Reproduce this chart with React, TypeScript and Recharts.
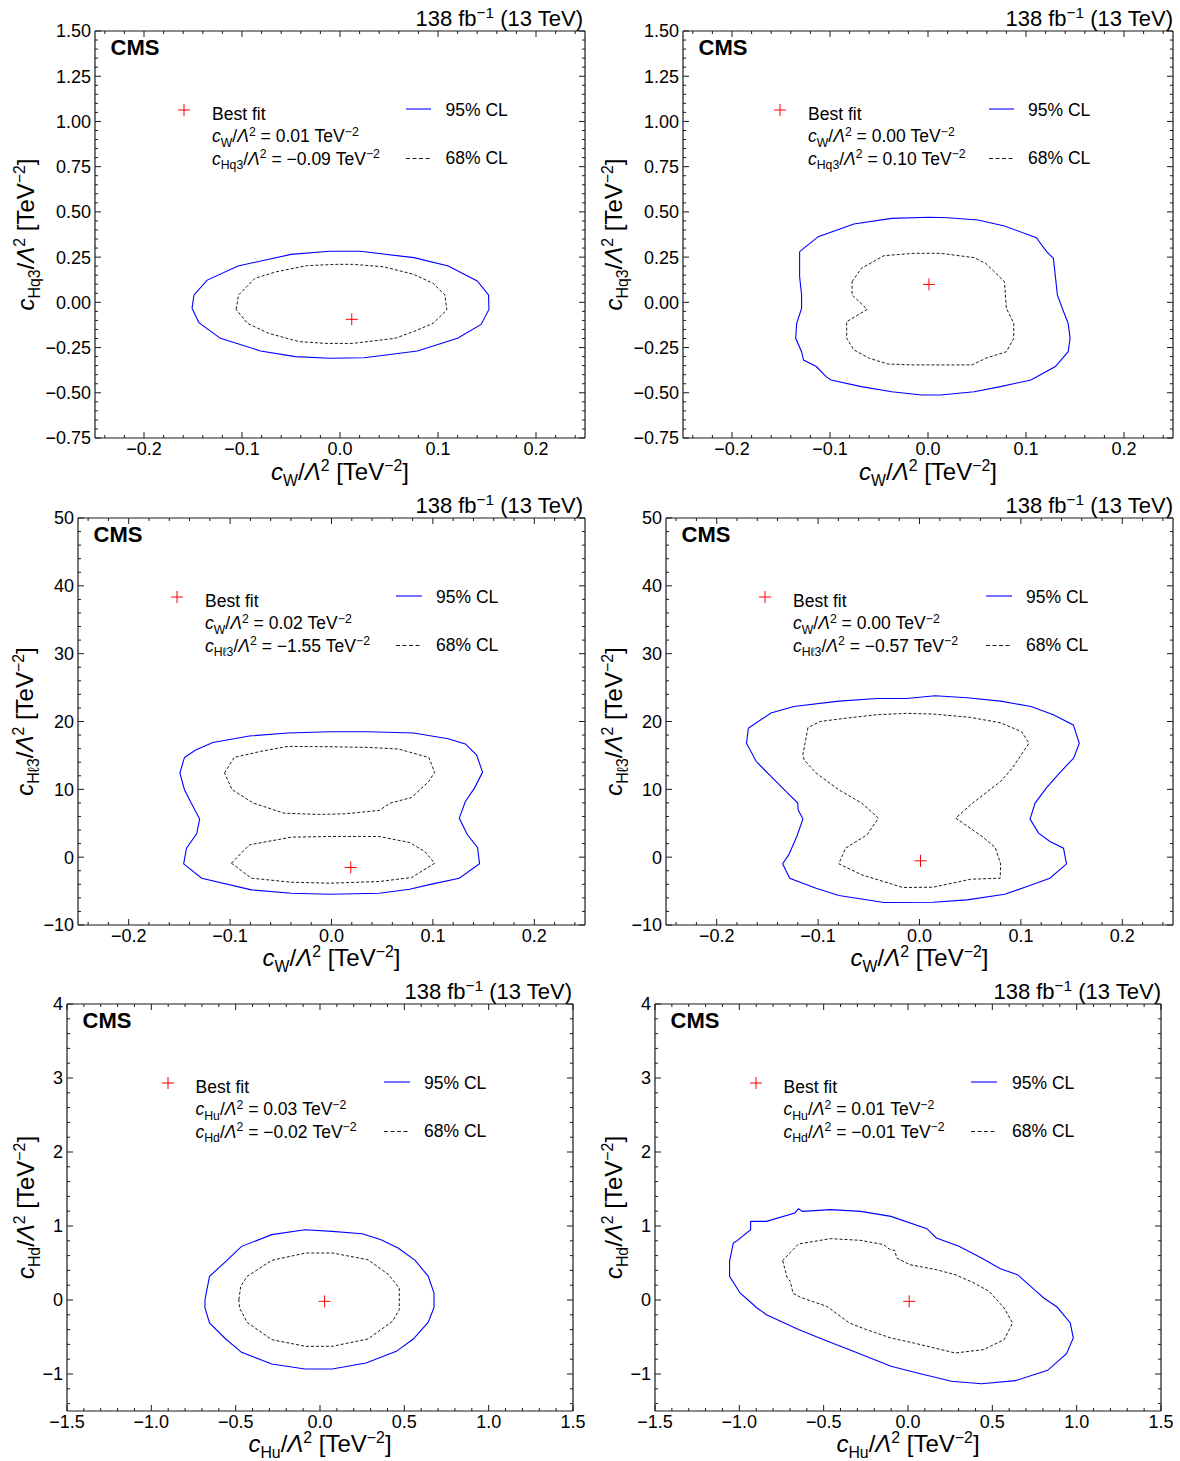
import React from 'react';
import { ScatterChart, Scatter, XAxis, YAxis } from 'recharts';

type Pt = { x: number; y: number };
const P = (x: number, y: number): Pt => ({ x, y });

// ---------- Panel 1: cW vs cHq3 (variant A) ----------
const p1Contour95: Pt[] = [
  P(-0.151, -0.033), P(-0.149, 0.041), P(-0.1355, 0.123), P(-0.104, 0.201), P(-0.05, 0.265),
  P(-0.0105, 0.282), P(0.0207, 0.282), P(0.0754, 0.247), P(0.1105, 0.201), P(0.14, 0.118),
  P(0.1516, 0.041), P(0.152, -0.039), P(0.144, -0.122), P(0.12, -0.199), P(0.079, -0.269),
  P(0.0246, -0.306), P(-0.0105, -0.309), P(-0.0457, -0.3), P(-0.081, -0.269), P(-0.122, -0.199),
  P(-0.144, -0.112),
];
const p1Contour68: Pt[] = [
  P(-0.106, -0.039), P(-0.1035, 0.041), P(-0.0867, 0.133), P(-0.065, 0.169), P(-0.034, 0.203),
  P(-0.003, 0.21), P(0.013, 0.21), P(0.044, 0.197), P(0.075, 0.155), P(0.095, 0.105),
  P(0.107, 0.041), P(0.109, -0.042), P(0.095, -0.116), P(0.075, -0.162), P(0.056, -0.199),
  P(0.013, -0.227), P(-0.0145, -0.227), P(-0.042, -0.217), P(-0.073, -0.171), P(-0.0945, -0.116),
];
const p1Best: Pt[] = [P(0.012, -0.094)];

// ---------- Panel 2: cW vs cHq3 (variant B) ----------
const p2Contour95: Pt[] = [
  P(-0.131, 0.28), P(-0.112, 0.363), P(-0.0756, 0.433), P(-0.037, 0.464), P(0.001, 0.47),
  P(0.02, 0.468), P(0.051, 0.455), P(0.078, 0.422), P(0.1106, 0.357), P(0.121, 0.28),
  P(0.128, 0.243), P(0.13, 0.142), P(0.132, 0.041), P(0.137, -0.033), P(0.143, -0.116),
  P(0.145, -0.199), P(0.143, -0.273), P(0.13, -0.355), P(0.105, -0.429), P(0.074, -0.466),
  P(0.047, -0.494), P(0.0127, -0.512), P(-0.0065, -0.512), P(-0.037, -0.494), P(-0.068, -0.466),
  P(-0.099, -0.429), P(-0.104, -0.411), P(-0.114, -0.355), P(-0.127, -0.319), P(-0.129, -0.273),
  P(-0.135, -0.199), P(-0.134, -0.116), P(-0.129, -0.033), P(-0.129, 0.041), P(-0.131, 0.142),
];
const p2Contour68: Pt[] = [
  P(-0.0775, 0.114), P(-0.068, 0.188), P(-0.045, 0.258), P(-0.014, 0.271), P(0.0127, 0.271),
  P(0.047, 0.247), P(0.059, 0.215), P(0.078, 0.114), P(0.08, -0.033), P(0.0875, -0.116),
  P(0.0875, -0.199), P(0.08, -0.273), P(0.059, -0.309), P(0.045, -0.346), P(0.0127, -0.346),
  P(-0.014, -0.346), P(-0.041, -0.341), P(-0.06, -0.309), P(-0.0756, -0.263), P(-0.083, -0.199),
  P(-0.083, -0.107), P(-0.062, -0.039), P(-0.0775, 0.041),
];
const p2Best: Pt[] = [P(0.001, 0.099)];

// ---------- Panel 3: cW vs cHl3 (variant A) ----------
const p3Contour95: Pt[] = [
  P(-0.145, 14.7), P(-0.1495, 12.4), P(-0.145, 9.94), P(-0.1375, 7.72), P(-0.13, 5.61),
  P(-0.133, 3.44), P(-0.143, 1.33), P(-0.1458, -0.98), P(-0.128, -3.1), P(-0.079, -4.82),
  P(-0.0395, -5.31), P(-0.002, -5.46), P(0.047, -5.31), P(0.077, -4.72), P(0.0998, -3.94),
  P(0.126, -3.1), P(0.146, -0.98), P(0.144, 1.43), P(0.134, 3.3), P(0.126, 5.76),
  P(0.132, 8.21), P(0.141, 10.18), P(0.149, 12.54), P(0.143, 15.1), P(0.132, 16.7),
  P(0.115, 17.46), P(0.081, 18.3), P(0.036, 18.5), P(-0.002, 18.5), P(-0.043, 18.3),
  P(-0.081, 17.86), P(-0.117, 16.9), P(-0.134, 15.8),
];
const p3Contour68Upper: Pt[] = [
  P(-0.1055, 12.4), P(-0.096, 14.7), P(-0.0697, 15.6), P(-0.0433, 16.33), P(-0.002, 16.28),
  P(0.036, 16.18), P(0.066, 15.94), P(0.096, 14.7), P(0.1017, 12.5), P(0.096, 11.17),
  P(0.079, 8.8), P(0.058, 7.97), P(0.047, 6.89), P(0.013, 6.39), P(-0.013, 6.3),
  P(-0.047, 6.49), P(-0.077, 7.97), P(-0.098, 9.94),
];
const p3Contour68Lower: Pt[] = [
  P(-0.0987, -0.89), P(-0.081, 1.82), P(-0.0395, 2.95), P(-0.002, 3.05), P(0.047, 3.05),
  P(0.077, 2.16), P(0.092, 0.84), P(0.1017, -0.89), P(0.079, -3.0), P(0.047, -3.59),
  P(-0.002, -3.84), P(-0.0395, -3.69), P(-0.079, -3.1),
];
const p3Best: Pt[] = [P(0.019, -1.52)];

// ---------- Panel 4: cW vs cHl3 (variant B) ----------
const p4Contour95: Pt[] = [
  P(-0.1688, 19.0), P(-0.1706, 16.8), P(-0.161, 14.1), P(-0.1465, 11.9), P(-0.13, 9.44),
  P(-0.12, 7.97), P(-0.1197, 6.98), P(-0.115, 5.61), P(-0.121, 3.05), P(-0.129, 0.34),
  P(-0.135, -0.98), P(-0.128, -3.1), P(-0.102, -4.57), P(-0.0796, -5.66), P(-0.035, -6.69),
  P(0.0134, -6.64), P(0.047, -6.3), P(0.084, -5.46), P(0.106, -4.33), P(0.1286, -3.1),
  P(0.145, -0.98), P(0.142, 1.33), P(0.1286, 2.31), P(0.1175, 3.54), P(0.109, 5.61),
  P(0.114, 7.97), P(0.125, 10.18), P(0.138, 12.4), P(0.152, 14.6), P(0.1576, 16.8),
  P(0.1517, 19.5), P(0.132, 21.0), P(0.11, 22.2), P(0.08, 23.0), P(0.047, 23.5),
  P(0.0152, 23.8), P(-0.0126, 23.4), P(-0.042, 23.4), P(-0.0796, 23.0), P(-0.124, 22.2),
  P(-0.1465, 21.25),
];
const p4Contour68: Pt[] = [
  P(-0.11, 19.1), P(-0.115, 15.1), P(-0.1138, 14.36), P(-0.102, 12.4), P(-0.0796, 9.94),
  P(-0.057, 7.97), P(-0.0405, 5.76), P(-0.0517, 3.3), P(-0.0729, 1.33), P(-0.0796, -0.98),
  P(-0.057, -2.6), P(-0.0164, -4.47), P(0.0134, -4.43), P(0.0506, -3.25), P(0.0796, -3.1),
  P(0.08, -0.98), P(0.0747, 1.43), P(0.0617, 3.05), P(0.0357, 5.76), P(0.0524, 7.97),
  P(0.08, 11.17), P(0.0914, 13.1), P(0.108, 16.8), P(0.1007, 18.5), P(0.08, 19.8),
  P(0.0506, 20.6), P(0.0134, 21.1), P(-0.0126, 21.2), P(-0.042, 21.0), P(-0.072, 20.5),
  P(-0.098, 20.0),
];
const p4Best: Pt[] = [P(0.001, -0.54)];

// ---------- Panel 5: cHu vs cHd (variant A) ----------
const p5Contour95: Pt[] = [
  P(-0.682, 0.005), P(-0.655, 0.32), P(-0.555, 0.53), P(-0.465, 0.725), P(-0.286, 0.883),
  P(-0.089, 0.95), P(0.072, 0.928), P(0.25, 0.896), P(0.362, 0.815), P(0.463, 0.703),
  P(0.564, 0.536), P(0.642, 0.32), P(0.676, 0.095), P(0.676, -0.099), P(0.642, -0.3),
  P(0.553, -0.527), P(0.452, -0.694), P(0.273, -0.851), P(0.072, -0.932), P(-0.089, -0.932),
  P(-0.286, -0.865), P(-0.465, -0.707), P(-0.559, -0.527), P(-0.655, -0.311), P(-0.682, -0.108),
];
const p5Contour68: Pt[] = [
  P(-0.481, 0.005), P(-0.47, 0.185), P(-0.432, 0.32), P(-0.286, 0.536), P(-0.085, 0.635),
  P(0.072, 0.635), P(0.284, 0.545), P(0.407, 0.342), P(0.47, 0.162), P(0.47, -0.131),
  P(0.43, -0.288), P(0.284, -0.527), P(0.072, -0.626), P(-0.085, -0.626), P(-0.286, -0.536),
  P(-0.432, -0.302), P(-0.477, -0.108),
];
const p5Best: Pt[] = [P(0.027, -0.018)];

// ---------- Panel 6: cHu vs cHd (variant B) ----------
const p6Contour95: Pt[] = [
  P(-1.058, 0.523), P(-1.058, 0.32), P(-0.996, 0.095), P(-0.928, -0.041), P(-0.895, -0.108),
  P(-0.839, -0.198), P(-0.649, -0.4), P(-0.492, -0.545), P(-0.324, -0.694), P(-0.101, -0.896),
  P(0.056, -0.986), P(0.257, -1.099), P(0.436, -1.131), P(0.638, -1.09), P(0.828, -0.95),
  P(0.94, -0.725), P(0.98, -0.514), P(0.962, -0.311), P(0.884, -0.095), P(0.805, 0.027),
  P(0.749, 0.14), P(0.649, 0.342), P(0.548, 0.423), P(0.436, 0.568), P(0.302, 0.725),
  P(0.168, 0.838), P(0.112, 0.964), P(-0.101, 1.13), P(-0.28, 1.198), P(-0.459, 1.221),
  P(-0.626, 1.198), P(-0.649, 1.234), P(-0.671, 1.176), P(-0.839, 1.063), P(-0.933, 1.063),
  P(-0.933, 0.95), P(-1.018, 0.793), P(-1.036, 0.77),
];
const p6Contour68: Pt[] = [
  P(-0.743, 0.532), P(-0.716, 0.297), P(-0.698, 0.252), P(-0.682, 0.095), P(-0.638, 0.036),
  P(-0.481, -0.086), P(-0.347, -0.311), P(-0.246, -0.401), P(-0.101, -0.514), P(0.034, -0.581),
  P(0.28, -0.716), P(0.447, -0.671), P(0.57, -0.536), P(0.62, -0.311), P(0.57, -0.108),
  P(0.481, 0.117), P(0.391, 0.23), P(0.28, 0.342), P(0.168, 0.41), P(0.011, 0.477),
  P(-0.067, 0.568), P(-0.078, 0.667), P(-0.112, 0.689), P(-0.145, 0.748), P(-0.28, 0.806),
  P(-0.459, 0.829), P(-0.649, 0.757), P(-0.682, 0.68),
];
const p6Best: Pt[] = [P(0.007, -0.018)];

// ---------- Axis ticks ----------
const xMajorW = [-0.2, -0.1, 0, 0.1, 0.2];
const yMajorHq3 = [-0.75, -0.5, -0.25, 0, 0.25, 0.5, 0.75, 1, 1.25, 1.5];
const yMajorHl3 = [-10, 0, 10, 20, 30, 40, 50];
const xMajorHu = [-1.5, -1, -0.5, 0, 0.5, 1, 1.5];
const yMajorHd = [-1, 0, 1, 2, 3, 4];

const steps = (lo: number, hi: number, st: number) => {
  const out: number[] = [];
  const n = Math.round((hi - lo) / st);
  for (let i = 0; i <= n; i++) out.push(Math.round((lo + i * st) * 10000) / 10000);
  return out;
};
const xMinorW = steps(-0.24, 0.24, 0.02);
const yMinorHq3 = steps(-0.75, 1.5, 0.05);
const yMinorHl3 = steps(-10, 50, 2);
const xMinorHu = steps(-1.5, 1.5, 0.1);
const yMinorHd = steps(-1.4, 4, 0.2);

const FONT = '"Liberation Sans", Arial, Helvetica, "DejaVu Sans", sans-serif';
const AXIS = '#1a1a1a';

const fmt = (v: number, d: number) => {
  const s = Math.abs(v) < 1e-9 ? (0).toFixed(d) : v.toFixed(d);
  return s.replace('-', '\u2212');
};

type Side = 'bottom' | 'top' | 'left' | 'right';
const makeTick = (side: Side, majors: number[], dec: number) => (props: any) => {
  const { x, y, payload } = props;
  const v = payload.value;
  const major = majors.some((m) => Math.abs(m - v) < 1e-7);
  const len = major ? 6 : 3;
  let l = { x1: x, y1: y, x2: x, y2: y };
  if (side === 'bottom') l = { x1: x, y1: y, x2: x, y2: y - len };
  if (side === 'top') l = { x1: x, y1: y, x2: x, y2: y + len };
  if (side === 'left') l = { x1: x, y1: y, x2: x + len, y2: y };
  if (side === 'right') l = { x1: x, y1: y, x2: x - len, y2: y };
  return (
    <g>
      <line {...l} stroke={AXIS} strokeWidth={1} />
      {major && side === 'bottom' && (
        <text x={x} y={y + 16.5} textAnchor="middle" fontSize={18} fontFamily={FONT} fill="#000">
          {fmt(v, dec)}
        </text>
      )}
      {major && side === 'left' && (
        <text x={x - 4} y={y} dy="0.36em" textAnchor="end" fontSize={18} fontFamily={FONT} fill="#000">
          {fmt(v, dec)}
        </text>
      )}
    </g>
  );
};

type Seg = { t: string; it?: boolean; sub?: boolean; sup?: boolean };
const Rich = ({ x, y, size, segs, anchor = 'start', transform, ratio = 0.66 }: { x: number; y: number; size: number; segs: Seg[]; anchor?: string; transform?: string; ratio?: number }) => {
  let cur = 0;
  const small = size * ratio;
  return (
    <text x={x} y={y} fontSize={size} fontFamily={FONT} textAnchor={anchor as any} transform={transform} fill="#000" style={{ whiteSpace: 'pre' }}>
      {segs.map((s, i) => {
        const target = s.sub ? size * 0.26 : s.sup ? -size * 0.37 : 0;
        const dy = target - cur;
        cur = target;
        return (
          <tspan key={i} dy={dy} fontSize={s.sub || s.sup ? small : size} fontStyle={s.it ? 'italic' : 'normal'}>
            {s.t}
          </tspan>
        );
      })}
    </text>
  );
};

const coefSegs = (name: string, tail: Seg[]): Seg[] => [
  { t: 'c', it: true }, { t: name, sub: true }, { t: '/' }, { t: '\u039B', it: true }, { t: '2', sup: true }, ...tail,
];
const titleSegs = (name: string): Seg[] => coefSegs(name, [{ t: ' [TeV' }, { t: '\u22122', sup: true }, { t: ']' }]);
const valueSegs = (name: string, val: string): Seg[] => coefSegs(name, [{ t: ` = ${val} TeV` }, { t: '\u22122', sup: true }]);

type Panel = {
  left: number; top: number; w: number; h: number;
  xDomain: [number, number]; yDomain: [number, number];
  xMajor: number[]; xMinor: number[]; yMajor: number[]; yMinor: number[]; xDec: number; yDec: number;
  c95: Pt[][]; c68: Pt[][]; best: Pt[];
  xName: string; yName: string; bestX: string; bestY: string;
  leg: { cross: number; text: number; l0: number; l1: number; cl: number };
  lumiRight: number; yTitleOff: number; xTitleOff: number;
};

const panels: Panel[] = [
  {
    left: 95, top: 31, w: 490, h: 407, xDomain: [-0.25, 0.25], yDomain: [-0.75, 1.5],
    xMajor: xMajorW, xMinor: xMinorW, yMajor: yMajorHq3, yMinor: yMinorHq3, xDec: 1, yDec: 2,
    c95: [p1Contour95], c68: [p1Contour68], best: p1Best,
    xName: 'W', yName: 'Hq3', bestX: '0.01', bestY: '\u22120.09',
    leg: { cross: 89, text: 117, l0: 311, l1: 336, cl: 350.5 }, lumiRight: 583, yTitleOff: -61, xTitleOff: 42,
  },
  {
    left: 683, top: 31, w: 490, h: 407, xDomain: [-0.25, 0.25], yDomain: [-0.75, 1.5],
    xMajor: xMajorW, xMinor: xMinorW, yMajor: yMajorHq3, yMinor: yMinorHq3, xDec: 1, yDec: 2,
    c95: [p2Contour95], c68: [p2Contour68], best: p2Best,
    xName: 'W', yName: 'Hq3', bestX: '0.00', bestY: '0.10',
    leg: { cross: 97, text: 125, l0: 306, l1: 331, cl: 345 }, lumiRight: 1173, yTitleOff: -61, xTitleOff: 42,
  },
  {
    left: 78, top: 518, w: 507, h: 407, xDomain: [-0.25, 0.25], yDomain: [-10, 50],
    xMajor: xMajorW, xMinor: xMinorW, yMajor: yMajorHl3, yMinor: yMinorHl3, xDec: 1, yDec: 0,
    c95: [p3Contour95], c68: [p3Contour68Upper, p3Contour68Lower], best: p3Best,
    xName: 'W', yName: 'H\u21133', bestX: '0.02', bestY: '\u22121.55',
    leg: { cross: 99, text: 127, l0: 318, l1: 344, cl: 358 }, lumiRight: 583, yTitleOff: -45, xTitleOff: 41,
  },
  {
    left: 666, top: 518, w: 507, h: 407, xDomain: [-0.25, 0.25], yDomain: [-10, 50],
    xMajor: xMajorW, xMinor: xMinorW, yMajor: yMajorHl3, yMinor: yMinorHl3, xDec: 1, yDec: 0,
    c95: [p4Contour95], c68: [p4Contour68], best: p4Best,
    xName: 'W', yName: 'H\u21133', bestX: '0.00', bestY: '\u22120.57',
    leg: { cross: 99, text: 127, l0: 320, l1: 346, cl: 360 }, lumiRight: 1173, yTitleOff: -44, xTitleOff: 41,
  },
  {
    left: 67, top: 1004, w: 506, h: 407, xDomain: [-1.5, 1.5], yDomain: [-1.5, 4],
    xMajor: xMajorHu, xMinor: xMinorHu, yMajor: yMajorHd, yMinor: yMinorHd, xDec: 1, yDec: 0,
    c95: [p5Contour95], c68: [p5Contour68], best: p5Best,
    xName: 'Hu', yName: 'Hd', bestX: '0.03', bestY: '\u22120.02',
    leg: { cross: 101, text: 128.5, l0: 317, l1: 343, cl: 357 }, lumiRight: 572, yTitleOff: -33, xTitleOff: 41,
  },
  {
    left: 655, top: 1004, w: 506, h: 407, xDomain: [-1.5, 1.5], yDomain: [-1.5, 4],
    xMajor: xMajorHu, xMinor: xMinorHu, yMajor: yMajorHd, yMinor: yMinorHd, xDec: 1, yDec: 0,
    c95: [p6Contour95], c68: [p6Contour68], best: p6Best,
    xName: 'Hu', yName: 'Hd', bestX: '0.01', bestY: '\u22120.01',
    leg: { cross: 101, text: 128.5, l0: 316, l1: 342, cl: 357 }, lumiRight: 1161, yTitleOff: -33, xTitleOff: 41,
  },
];

const closed = (pts: Pt[]) => [...pts, pts[0]];
const noDot = () => <g />;
const Cross = (props: any) => {
  const { cx, cy } = props;
  return (
    <g>
      <line x1={cx - 6} y1={cy} x2={cx + 6} y2={cy} stroke="#ff0000" strokeWidth={1} />
      <line x1={cx} y1={cy - 6} x2={cx} y2={cy + 6} stroke="#ff0000" strokeWidth={1} />
    </g>
  );
};

const PAD_L = 80, PAD_R = 12, PAD_T = 12, PAD_B = 30;

const PanelChart = ({ p }: { p: Panel }) => {
  const W = p.w + PAD_L + PAD_R;
  const H = p.h + PAD_T + PAD_B;
  return (
    <div style={{ position: 'absolute', left: p.left - PAD_L, top: p.top - PAD_T, width: W, height: H }}>
      <ScatterChart width={W} height={H} margin={{ top: 0, right: 0, bottom: 0, left: 0 }}>
        <XAxis xAxisId="b" type="number" dataKey="x" orientation="bottom" domain={p.xDomain} allowDataOverflow
          ticks={p.xMinor} interval={0} height={PAD_B} tickSize={0} tickMargin={0} tickLine={false}
          axisLine={{ stroke: AXIS, strokeWidth: 1.2 }} tick={makeTick('bottom', p.xMajor, p.xDec)} />
        <XAxis xAxisId="t" type="number" dataKey="x" orientation="top" domain={p.xDomain} allowDataOverflow
          ticks={p.xMinor} interval={0} height={PAD_T} tickSize={0} tickMargin={0} tickLine={false}
          axisLine={{ stroke: AXIS, strokeWidth: 1.2 }} tick={makeTick('top', p.xMajor, p.xDec)} />
        <YAxis yAxisId="l" type="number" dataKey="y" orientation="left" domain={p.yDomain} allowDataOverflow
          ticks={p.yMinor} interval={0} width={PAD_L} tickSize={0} tickMargin={0} tickLine={false}
          axisLine={{ stroke: AXIS, strokeWidth: 1.2 }} tick={makeTick('left', p.yMajor, p.yDec)} />
        <YAxis yAxisId="r" type="number" dataKey="y" orientation="right" domain={p.yDomain} allowDataOverflow
          ticks={p.yMinor} interval={0} width={PAD_R} tickSize={0} tickMargin={0} tickLine={false}
          axisLine={{ stroke: AXIS, strokeWidth: 1.2 }} tick={makeTick('right', p.yMajor, p.yDec)} />
        {p.c95.map((c, i) => (
          <Scatter key={`a${i}`} xAxisId="b" yAxisId="l" data={closed(c)} fill="#0000ff" isAnimationActive={false}
            line={{ stroke: '#0000ff', strokeWidth: 1.1 }} lineType="joint" shape={noDot} />
        ))}
        {p.c68.map((c, i) => (
          <Scatter key={`b${i}`} xAxisId="b" yAxisId="l" data={closed(c)} fill="#000" isAnimationActive={false}
            line={{ stroke: '#000', strokeWidth: 0.9, strokeDasharray: '3 2' }} lineType="joint" shape={noDot} />
        ))}
        <Scatter xAxisId="b" yAxisId="l" data={p.best} fill="#ff0000" isAnimationActive={false} shape={Cross} />
      </ScatterChart>
    </div>
  );
};

const Annotations = ({ p }: { p: Panel }) => {
  const L = p.left, T = p.top;
  const cx = L + p.leg.cross, cy = T + 79;
  return (
    <g>
      <Rich x={p.lumiRight} y={T - 5} size={22} anchor="end" ratio={0.7}
        segs={[{ t: '138 fb' }, { t: '\u22121', sup: true }, { t: ' (13 TeV)' }]} />
      <text x={L + 15.5} y={T + 24} fontSize={22} fontWeight="bold" fontFamily={FONT} fill="#000">CMS</text>
      <Rich x={L + p.w / 2} y={T + p.h + p.xTitleOff} size={24} anchor="middle" segs={titleSegs(p.xName)} />
      <Rich x={0} y={0} size={24} anchor="middle" segs={titleSegs(p.yName)}
        transform={`translate(${L + p.yTitleOff},${T + p.h / 2}) rotate(-90)`} />
      <line x1={cx - 6} y1={cy} x2={cx + 6} y2={cy} stroke="#ff0000" strokeWidth={1} />
      <line x1={cx} y1={cy - 6} x2={cx} y2={cy + 6} stroke="#ff0000" strokeWidth={1} />
      <text x={L + p.leg.text} y={T + 89} fontSize={17.5} fontFamily={FONT} fill="#000">Best fit</text>
      <Rich x={L + p.leg.text} y={T + 111} size={17.5} ratio={0.7} segs={valueSegs(p.xName, p.bestX)} />
      <Rich x={L + p.leg.text} y={T + 133.5} size={17.5} ratio={0.7} segs={valueSegs(p.yName, p.bestY)} />
      <line x1={L + p.leg.l0} y1={T + 78} x2={L + p.leg.l1} y2={T + 78} stroke="#0000ff" strokeWidth={1.1} />
      <line x1={L + p.leg.l0} y1={T + 127.5} x2={L + p.leg.l1} y2={T + 127.5} stroke="#000" strokeWidth={0.9} strokeDasharray="4 2.5" />
      <text x={L + p.leg.cl} y={T + 84.5} fontSize={17.5} fontFamily={FONT} fill="#000">95% CL</text>
      <text x={L + p.leg.cl} y={T + 133} fontSize={17.5} fontFamily={FONT} fill="#000">68% CL</text>
    </g>
  );
};

export default function App() {
  return (
    <div style={{ position: 'absolute', left: 0, top: 0, width: 1180, height: 1461, background: '#fff', overflow: 'hidden' }}>
      {panels.map((p, i) => (
        <PanelChart key={i} p={p} />
      ))}
      <svg width={1180} height={1461} style={{ position: 'absolute', left: 0, top: 0, pointerEvents: 'none' }}>
        {panels.map((p, i) => (
          <Annotations key={i} p={p} />
        ))}
      </svg>
    </div>
  );
}
